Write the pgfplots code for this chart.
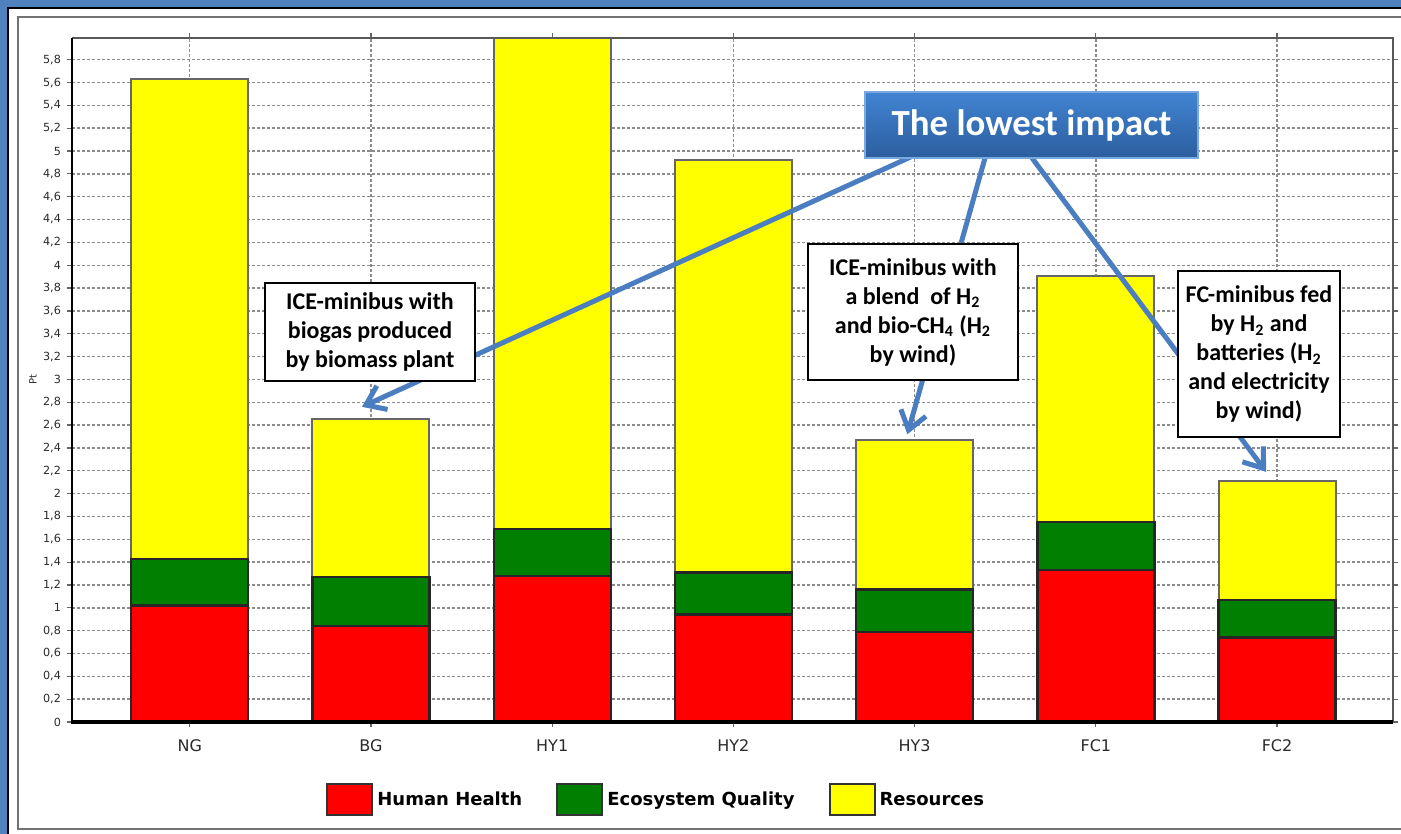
\documentclass[border=0pt]{standalone}
\usepackage{fontspec}
\setmainfont{Carlito}
\newfontfamily\dejavu{DejaVu Sans}
\usepackage{pgfplots}
\usepackage{pgfplotstable}
\pgfplotsset{compat=1.18}
\usetikzlibrary{arrows.meta}

\definecolor{frameblue}{HTML}{4F81BD}
\definecolor{arrowblue}{HTML}{4A7EC0}
\definecolor{boxtop}{HTML}{4184D2}
\definecolor{boxbot}{HTML}{2C5E9F}
\definecolor{hhred}{HTML}{FF0000}
\definecolor{eqgreen}{HTML}{007F00}
\definecolor{resyellow}{HTML}{FFFF00}
\definecolor{tickgray}{HTML}{2A2A2A}

% Damage categories (Pt) per minibus scenario, stacked bottom to top
\pgfplotstableread{
x   hh    eq    res
0   1.02  0.41  4.20
1   0.84  0.43  1.38
2   1.28  0.41  4.60
3   0.94  0.37  3.61
4   0.79  0.37  1.31
5   1.33  0.42  2.16
6   0.74  0.33  1.04
}\impacts

\pgfplotsset{
  boxlegend/.style={legend image code/.code={
    \draw[##1, draw=black!80, line width=1pt] (0pt,-7.75pt) rectangle (22.5pt,7.75pt);}},
}

\begin{document}
\begin{tikzpicture}
\useasboundingbox (0pt,0pt) rectangle (700.5pt,417pt);
% window frame
\fill[frameblue] (0pt,0pt) rectangle (700.5pt,417pt);
\fill[white] (4pt,0pt) rectangle (700.5pt,413pt);
\draw[black, line width=1pt] (4pt,-1pt) -- (4pt,413pt) -- (702pt,413pt);
\draw[black!55, line width=1pt] (702pt,408.5pt) -- (9pt,408.5pt) -- (9pt,2.5pt) -- (702pt,2.5pt);

\begin{axis}[
  at={(36pt,56pt)}, anchor=south west,
  scale only axis, width=660.5pt, height=342pt,
  ybar stacked, bar width=58.5pt,
  xmin=-0.65, xmax=6.64, ymin=0, ymax=5.99,
  enlargelimits=false,
  axis line style={draw=none},
  xtick={0,...,6},
  xticklabels={NG,BG,HY1,HY2,HY3,FC1,FC2},
  ytick={0,0.2,...,5.8},
  tick align=outside,
  major tick length=2.5pt,
  tick style={black!60, line width=0.6pt},
  xmajorgrids, ymajorgrids,
  grid style={black!45, line width=0.7pt, dash pattern=on 1.5pt off 1pt},
  /pgf/number format/use comma,
  /pgf/number format/fixed,
  /pgf/number format/assume math mode=true,
  yticklabel style={font=\dejavu\fontsize{5.6}{6}\selectfont, text=tickgray, xshift=0.5pt},
  xticklabel style={font=\dejavu\fontsize{8}{9}\selectfont, text=tickgray, yshift=-3pt},
  ylabel={Pt},
  every axis y label/.style={at={(rel axis cs:-0.0295,0.5)}, rotate=90, anchor=center,
    font=\dejavu\fontsize{5}{6}\selectfont, text=tickgray},
  legend columns=3,
  legend style={draw=none, fill=none, at={(rel axis cs:0.443,-0.114)}, anchor=center,
    font=\dejavu\bfseries\fontsize{9}{10}\selectfont,
    /tikz/every even column/.append style={column sep=15pt},
    /tikz/every odd column/.append style={column sep=0pt}},
]
\addplot[boxlegend, fill=hhred, draw=black!85, line width=1.2pt] table[x=x, y=hh] {\impacts};
\addlegendentry{Human Health}
\addplot[boxlegend, fill=eqgreen, draw=black!85, line width=1.2pt] table[x=x, y=eq] {\impacts};
\addlegendentry{Ecosystem Quality}
\addplot[boxlegend, fill=resyellow, draw=black!60, line width=1pt] table[x=x, y=res] {\impacts};
\addlegendentry{Resources}

\coordinate (ll) at (rel axis cs:0,0);
\coordinate (lr) at (rel axis cs:1,0);
\coordinate (ul) at (rel axis cs:0,1);
\coordinate (ur) at (rel axis cs:1,1);
% arrow tips just above the three lowest bars
\coordinate (tipBG)  at (axis cs:0.95,2.76);
\coordinate (tipHY3) at (axis cs:3.96,2.52);
\coordinate (tipFC2) at (axis cs:5.94,2.19);
\end{axis}

% axis frame
\draw[black!65, line width=1pt] (ul) -- (ur) -- (lr);
\draw[black, line width=1.1pt] (ll) -- (ul);
\draw[black, line width=1.6pt] ([xshift=-0.5pt]ll) -- (lr);

% annotation arrows
\begin{scope}[arrowblue, line width=2.5pt, -{Straight Barb[length=9pt,width=13pt]}]
  \draw (457.5pt,339.5pt) -- (tipBG);
  \draw (492.5pt,338pt) -- (tipHY3);
  \draw (516pt,338pt) -- (tipFC2);
\end{scope}

% annotation boxes
\tikzset{callout/.style={draw=black, line width=1pt, fill=white, align=center, inner sep=0pt,
  font=\bfseries\fontsize{12}{14.5}\selectfont}}
\node[callout, minimum width=105pt, minimum height=49pt] at (185pt,251pt)
  {ICE-minibus with\\biogas produced\\by biomass plant};
\node[callout, minimum width=105pt, minimum height=68pt] at (456.5pt,261pt)
  {ICE-minibus with\\a blend~~of H\textsubscript{2}\\and bio-CH\textsubscript{4} (H\textsubscript{2}\\by wind)};
\node[callout, minimum width=81pt, minimum height=83pt] at (629.5pt,240pt)
  {FC-minibus fed\\by H\textsubscript{2} and\\batteries (H\textsubscript{2}\\and electricity\\by wind)};

\node[top color=boxtop, bottom color=boxbot, draw=boxtop!70!white, line width=0.6pt,
  minimum width=166.5pt, minimum height=33pt, inner sep=0pt, text=white,
  font=\bfseries\fontsize{18.4}{20}\selectfont] at (515.75pt,354.5pt) {The lowest impact};
\end{tikzpicture}
\end{document}
